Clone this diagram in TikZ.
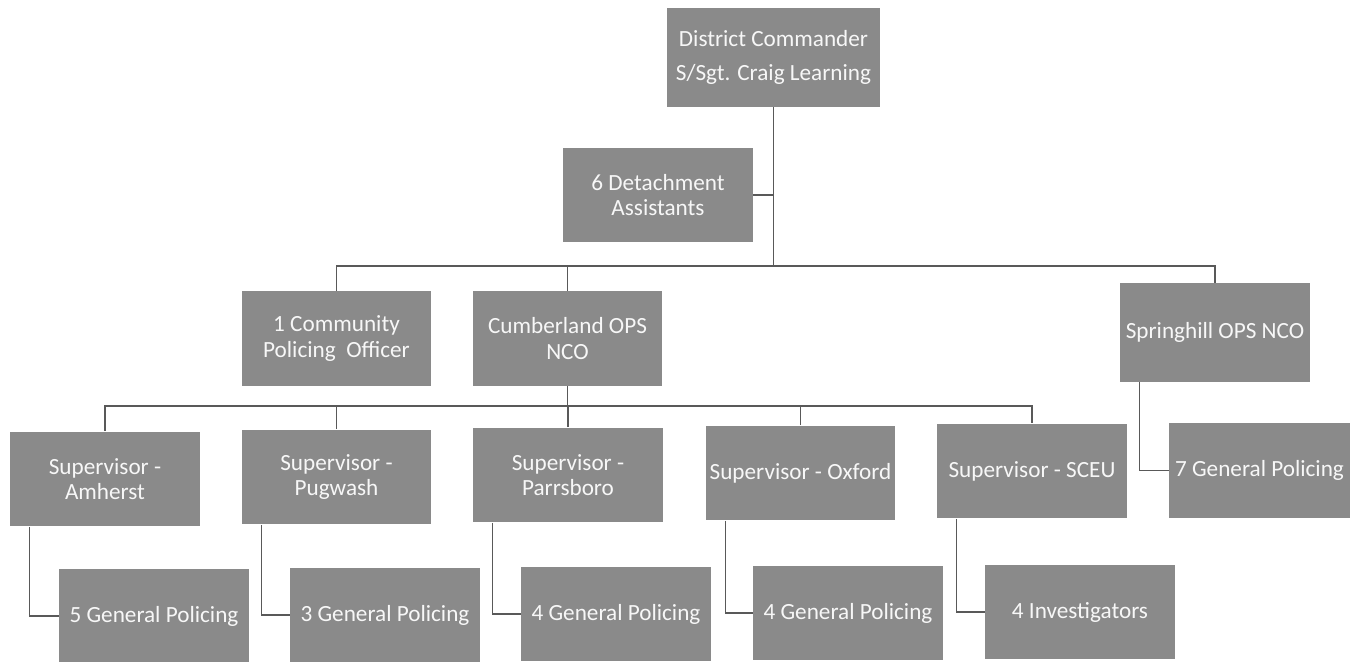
\documentclass[tikz,border=0pt]{standalone}
\usepackage{fontspec}
\setmainfont{Carlito}
\usepackage{tikz}
\definecolor{boxgray}{RGB}{138,138,138}

\begin{document}
\begin{tikzpicture}[x=0.02cm,y=-0.02cm,
  unit/.style={fill=boxgray,text=gray!6,minimum width=3.8cm,minimum height=1.9cm,inner sep=2pt,
    align=center,font=\fontsize{13.2}{14.6}\selectfont},
  link/.style={draw=black!65,line width=0.6pt}]
\useasboundingbox (0,0) rectangle (1353,662);
% top
\node[unit,minimum width=4.26cm,minimum height=1.98cm,font=\fontsize{13.2}{19}\selectfont] (cmd) at (773.5,57.5) {District Commander\\S/Sgt. Craig Learning};
\node[unit,minimum height=1.88cm] (det) at (658,195) {6 Detachment\\Assistants};
% second row
\node[unit] (cpo) at (336.5,338.5) {1 Community\\Policing\ \ Officer};
\node[unit] (cum) at (567.5,338.5) {Cumberland OPS\\NCO};
\node[unit,minimum height=1.98cm] (spr) at (1215,332.5) {Springhill OPS NCO};
% supervisors
\node[unit] (sam) at (105,479) {Supervisor -\\Amherst};
\node[unit] (spu) at (336.5,477) {Supervisor -\\Pugwash};
\node[unit] (spa) at (568,475) {Supervisor -\\Parrsboro};
\node[unit] (sox) at (800.5,473) {Supervisor - Oxford};
\node[unit] (ssc) at (1032,471) {Supervisor - SCEU};
\node[unit,minimum width=3.62cm] (gsp) at (1259.5,470.5) {7 General Policing};
% bottom row
\node[unit] (gam) at (154,616) {5 General Policing};
\node[unit] (gpu) at (385,615) {3 General Policing};
\node[unit] (gpa) at (616,614) {4 General Policing};
\node[unit] (gox) at (848,613) {4 General Policing};
\node[unit] (gsc) at (1080,612) {4 Investigators};
% connectors
\coordinate (bus1) at (773.5,266);
\coordinate (bus2) at (567.5,406);
\draw[link] (cmd.south) -- (bus1);
\draw[link] (det.east) -- (det.east -| cmd.south);
\draw[link] (cpo.north) |- (bus1) -| (spr.north);
\draw[link] (cum.north) -- (cum.north |- bus1);
\draw[link] (cum.south) -- (bus2);
\draw[link] (sam.north) |- (bus2) -| (ssc.north);
\foreach \s in {spu,spa,sox}
  \draw[link] (\s.north) -- (\s.north |- bus2);
\foreach \s/\g in {sam/gam,spu/gpu,spa/gpa,sox/gox,ssc/gsc,spr/gsp}
  \draw[link] ([xshift=0.4cm]\s.south west) |- (\g.west);
\end{tikzpicture}
\end{document}
